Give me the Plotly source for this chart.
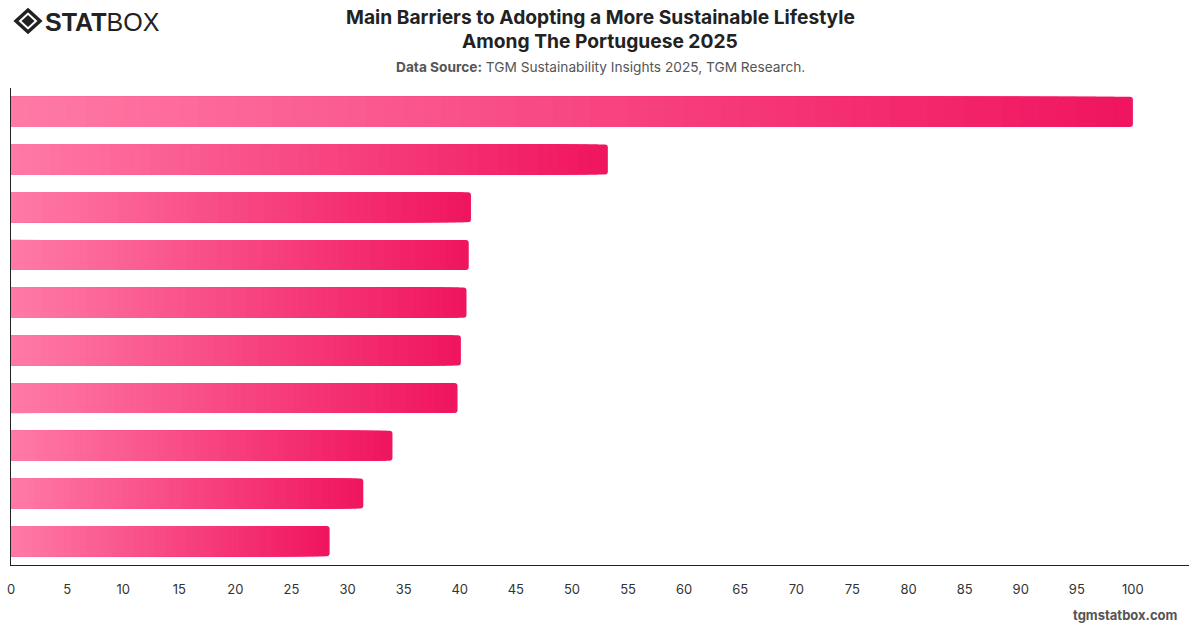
import plotly.graph_objects as go

# ---- data ----
categories = ["Barrier 1", "Barrier 2", "Barrier 3", "Barrier 4", "Barrier 5",
              "Barrier 6", "Barrier 7", "Barrier 8", "Barrier 9", "Barrier 10"]
values = [100, 53.2, 41.0, 40.8, 40.6, 40.1, 39.8, 34.0, 31.4, 28.4]
tick_values = list(range(0, 101, 5))
tick_labels = [str(v) for v in tick_values]

W, H = 1200, 628
L, R, T, B = 11, 11, 88, 63
PW, PH = W - L - R, H - T - B

def px(x):
    return (x - L) / PW

def py(y):
    return (H - B - y) / PH

c0 = (255, 122, 166)
c1 = (240, 20, 95)
N = 60

fig = go.Figure()
for k in range(N, 0, -1):
    f = k / N
    t = (k - 0.5) / N
    col = "rgb(%d,%d,%d)" % tuple(round(a + (b - a) * t) for a, b in zip(c0, c1))
    fig.add_trace(go.Bar(
        y=categories,
        x=[v * f for v in values],
        orientation="h",
        marker=dict(color=col, line=dict(width=0), cornerradius=3 if k == N else 0),
        width=0.63,
        hoverinfo="skip" if k != N else None,
        showlegend=False,
    ))

fig.update_layout(
    width=W, height=H,
    margin=dict(l=L, r=R, t=T, b=B, autoexpand=False),
    barmode="overlay",
    plot_bgcolor="white",
    paper_bgcolor="white",
    font=dict(family="Inter, Roboto, sans-serif", color="#333"),
    xaxis=dict(range=[0, 105], tickvals=tick_values, ticktext=tick_labels,
               showgrid=False, zeroline=False, showline=True, linecolor="#222",
               linewidth=1, ticks="", ticklabelstandoff=12, automargin=False,
               tickfont=dict(size=13, color="#333")),
    yaxis=dict(categoryorder="array", categoryarray=categories, autorange="reversed",
               showticklabels=False, showgrid=False, zeroline=False, automargin=False,
               showline=True, linecolor="#222", linewidth=1, ticks=""),
)

# title & subtitle
fig.add_annotation(x=px(600), y=py(17), xref="paper", yref="paper",
                   text="<b>Main Barriers to Adopting a More Sustainable Lifestyle</b>",
                   showarrow=False, font=dict(size=19.2, color="#222"),
                   xanchor="center", yanchor="middle")
fig.add_annotation(x=px(600), y=py(41), xref="paper", yref="paper",
                   text="<b>Among The Portuguese 2025</b>",
                   showarrow=False, font=dict(size=19.2, color="#222"),
                   xanchor="center", yanchor="middle")
fig.add_annotation(x=px(600), y=py(67), xref="paper", yref="paper",
                   text="<b>Data Source:</b> TGM Sustainability Insights 2025, TGM Research.",
                   showarrow=False, font=dict(size=13.7, color="#555"),
                   xanchor="center", yanchor="middle")
# watermark
fig.add_annotation(x=px(1180), y=py(615), xref="paper", yref="paper",
                   text="<b>tgmstatbox.com</b>", showarrow=False,
                   font=dict(size=13, color="#555"), xanchor="right", yanchor="middle")

# logo text
fig.add_annotation(x=px(43), y=py(22), xref="paper", yref="paper",
                   text="<b>STAT</b>BOX", showarrow=False,
                   font=dict(size=25, color="#222", family="Liberation Sans, Arial, sans-serif"),
                   xanchor="left", yanchor="middle")

# logo icon (diamond)
cx, cy = 28, 21
def diamond(hw, hh):
    pts = [(cx, cy - hh), (cx + hw, cy), (cx, cy + hh), (cx - hw, cy)]
    return "M " + " L ".join("%f,%f" % (px(a), py(b)) for a, b in pts) + " Z"

fig.add_shape(type="path", xref="paper", yref="paper", path=diamond(12, 11),
              line=dict(color="#222", width=3.5), fillcolor="rgba(0,0,0,0)")
fig.add_shape(type="path", xref="paper", yref="paper", path=diamond(6.5, 6),
              line=dict(color="#222", width=0), fillcolor="#222")

fig.write_html("out.html")
